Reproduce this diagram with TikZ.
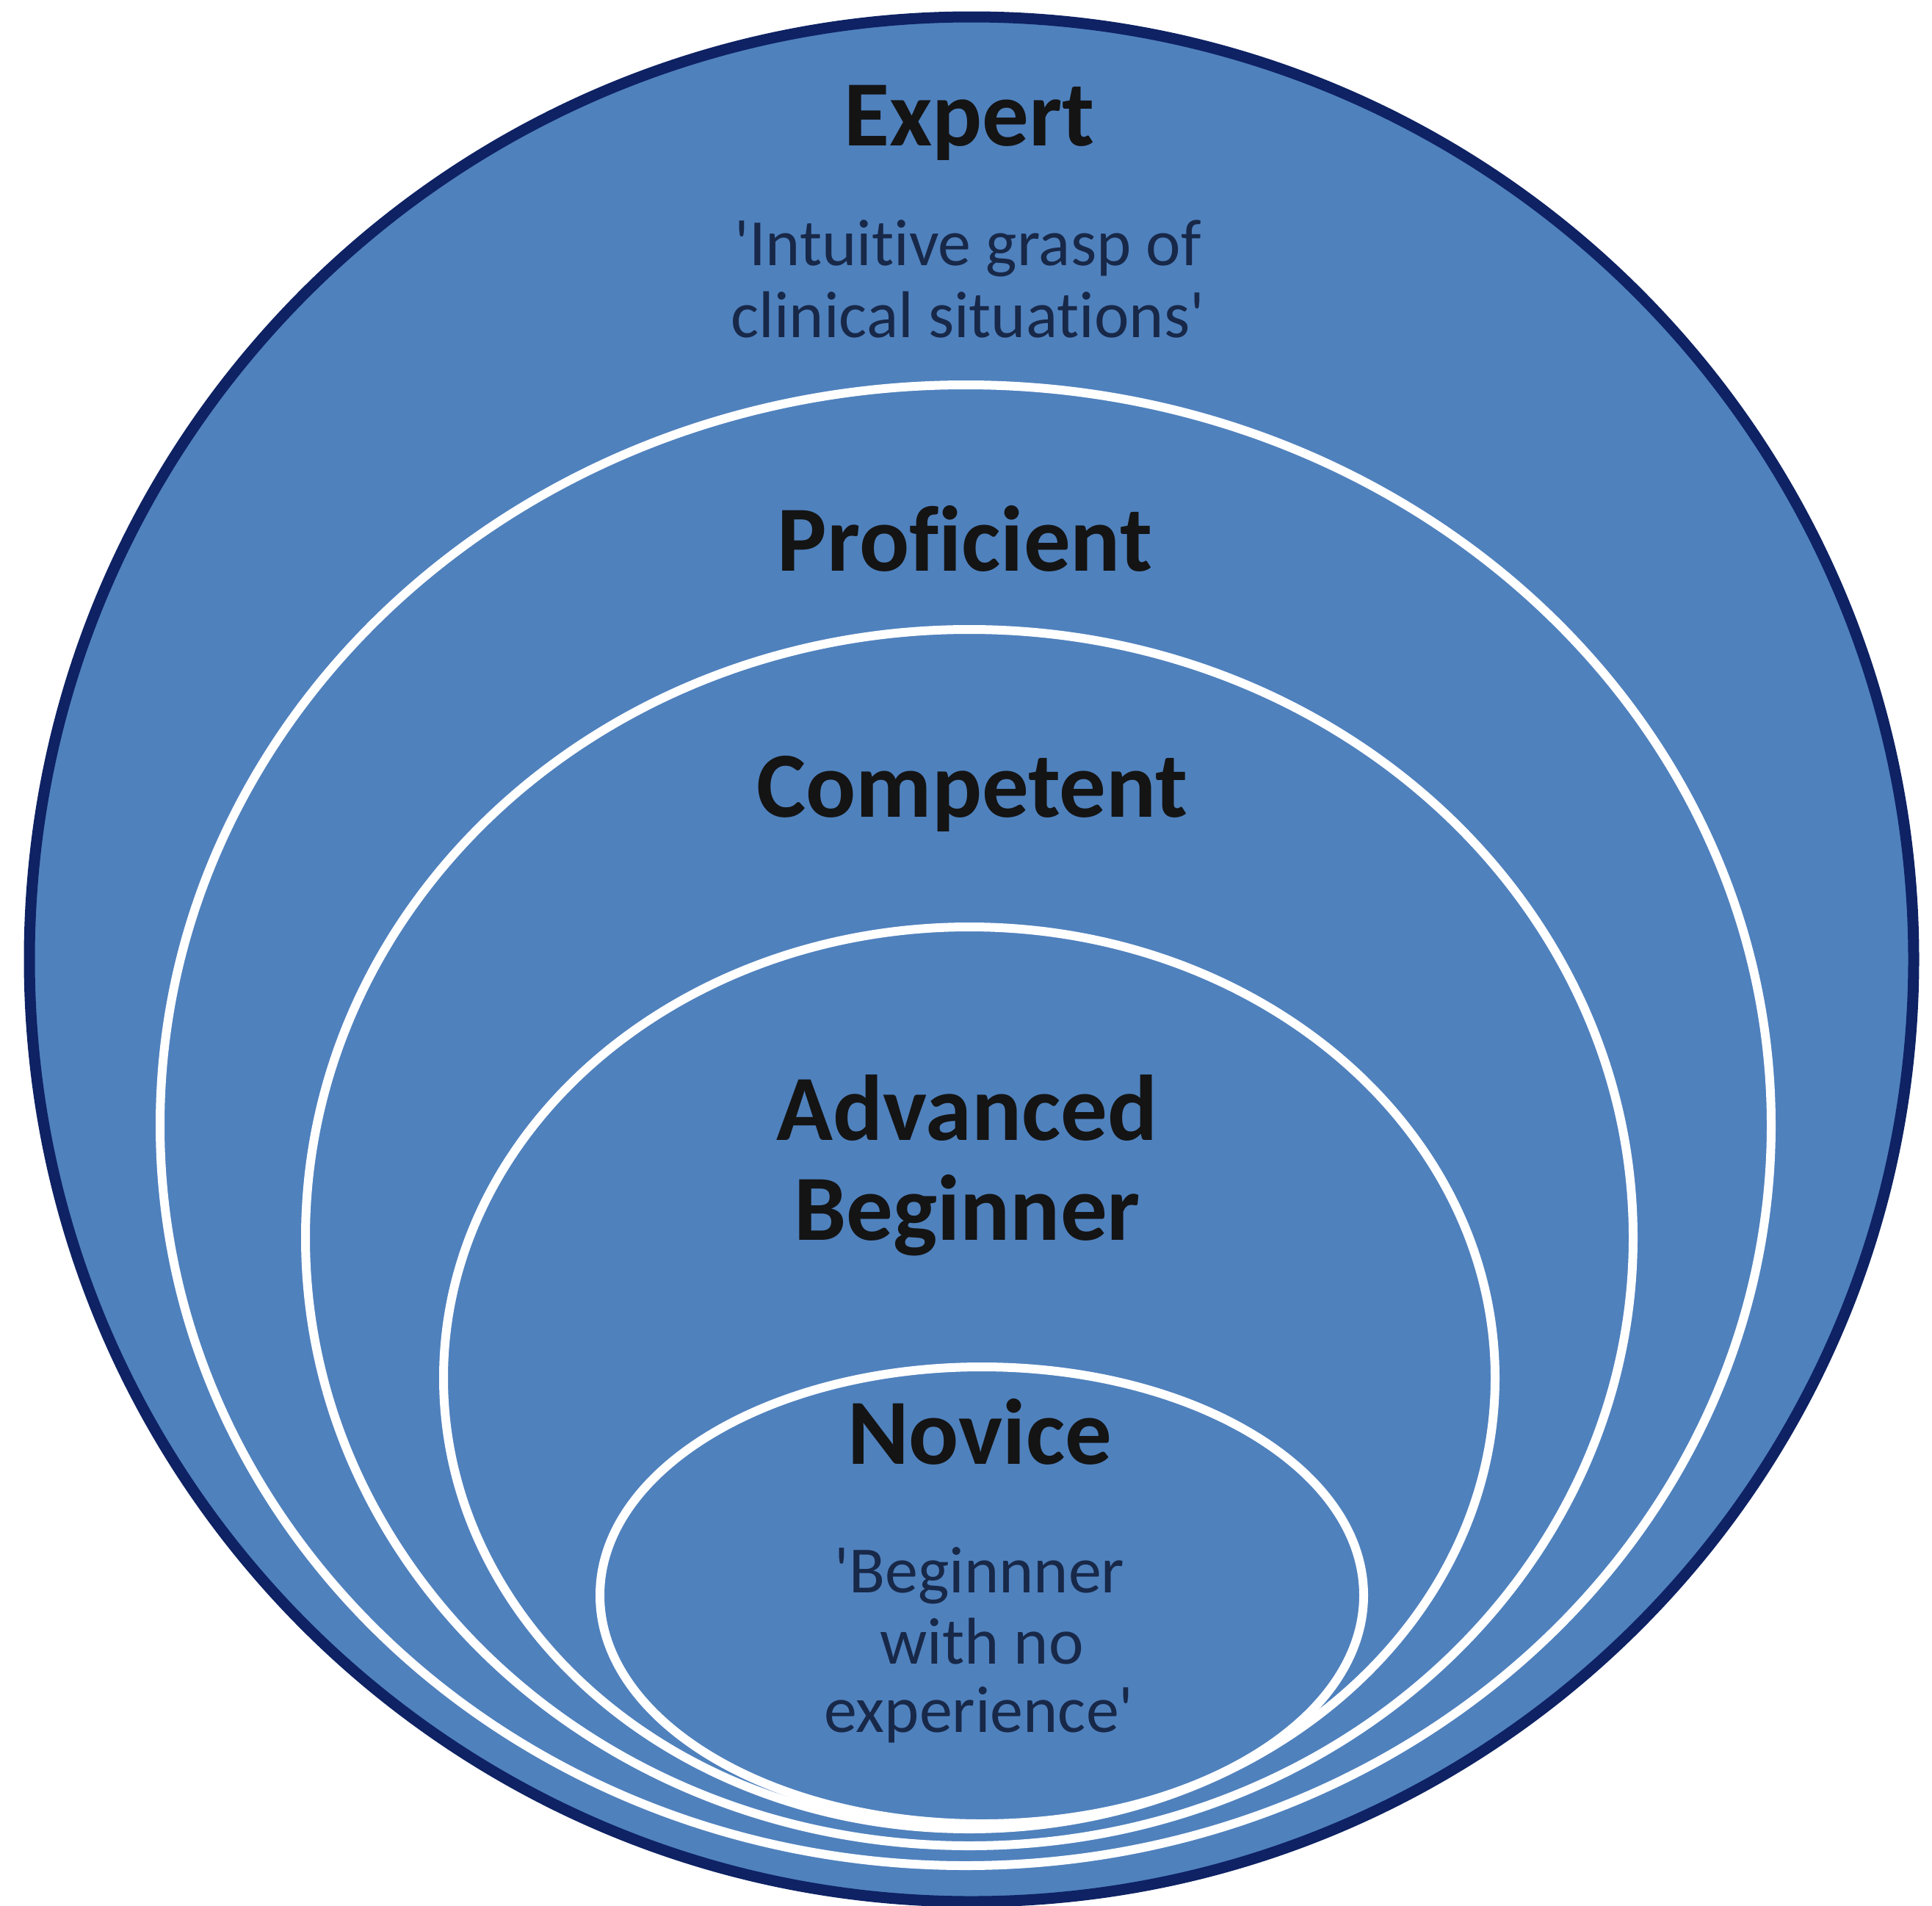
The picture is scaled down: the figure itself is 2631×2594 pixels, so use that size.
\documentclass[tikz,border=0pt]{standalone}
\usepackage{fontspec}
\setmainfont{Carlito}[Ligatures={TeXOff,NoCommon}]
\definecolor{fillblue}{RGB}{79,129,189}
\definecolor{navy}{RGB}{14,34,100}
\definecolor{subtext}{RGB}{24,40,72}
\begin{document}
\begin{tikzpicture}[x=1pt,y=-1pt,
  ring/.style={draw=white,line width=12pt},
  title/.style={font=\fontsize{127}{130}\selectfont\bfseries,text=black!92,inner sep=0pt,anchor=base},
  note/.style={font=\fontsize{90}{100}\selectfont,text=subtext,inner sep=0pt,anchor=base}]
\useasboundingbox (0,0) rectangle (2631,2594);
\fill[white] (0,0) rectangle (2631,2594);
% outer circle (Expert)
\draw[fill=fillblue,draw=navy,line width=15pt] (1323,1306) circle[radius=1283];
% nested ovals
\draw[ring] (1315,1532) ellipse[x radius=1097,y radius=1008];
\draw[ring] (1320,1685) ellipse[x radius=904,y radius=828];
\draw[ring] (1320,1876) ellipse[x radius=716,y radius=614];
\draw[ring] (1337,2172) ellipse[x radius=520,y radius=311];
% labels
\node[title] (expert) at (1320,198) {Expert};
\node[note] (expnote1) at (1318,361) {'Intuitive grasp of};
\node[note] (expnote2) at (1318,459) {clinical situations'};
\node[title] (proficient) at (1314,777) {Proficient};
\node[title] (competent) at (1324,1112) {Competent};
\node[title] (advanced) at (1317,1552) {Advanced};
\node[title] (beginner) at (1317,1688) {Beginner};
\node[title] (novice) at (1334,1993) {Novice};
\node[note] (novnote1) at (1334,2168) {'Beginnner};
\node[note] (novnote2) at (1337,2265) {with no};
\node[note] (novnote3) at (1333,2358) {experience'};
\end{tikzpicture}
\end{document}
